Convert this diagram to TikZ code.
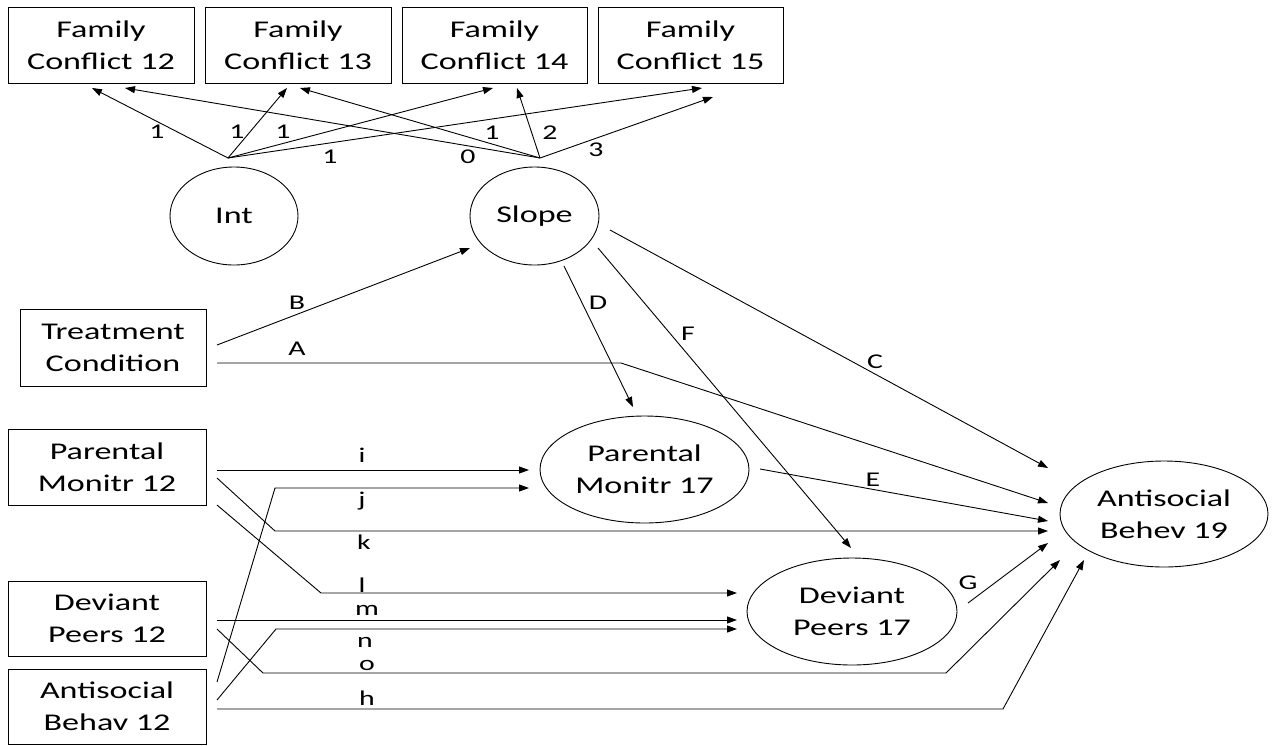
\documentclass[tikz,border=0pt]{standalone}
\usepackage{fontspec}
\setmainfont{Carlito}[FakeStretch=1.42]
\usetikzlibrary{shapes.geometric,arrows.meta}
\begin{document}
\begin{tikzpicture}[x=1pt,y=-1pt,
  box/.style={draw,line width=0.9pt,rectangle,inner sep=0pt,align=center,font=\fontsize{24}{32}\selectfont},
  ell/.style={draw,line width=0.9pt,ellipse,inner sep=0pt,align=center,font=\fontsize{24}{32}\selectfont},
  lbl/.style={inner sep=0pt,font=\fontsize{21}{24}\selectfont},
  conn/.style={line width=0.9pt,-{Triangle[length=10pt,width=7pt]}},
  plain/.style={line width=0.9pt}]
\useasboundingbox (0,0) rectangle (1277,745);

% boxes
\node[box,minimum width=186pt,minimum height=76pt] (fc12) at (101,45) {Family\\Conflict 12};
\node[box,minimum width=186pt,minimum height=76pt] (fc13) at (298,45) {Family\\Conflict 13};
\node[box,minimum width=185pt,minimum height=76pt] (fc14) at (494.5,45) {Family\\Conflict 14};
\node[box,minimum width=185pt,minimum height=76pt] (fc15) at (690.5,45) {Family\\Conflict 15};
\node[box,minimum width=186pt,minimum height=77pt] (trt) at (113,347.5) {Treatment\\Condition};
\node[box,minimum width=198pt,minimum height=76pt] (pm12) at (107,467) {Parental\\Monitr 12};
\node[box,minimum width=198pt,minimum height=75pt] (dp12) at (107,618.5) {Deviant\\Peers 12};
\node[box,minimum width=198pt,minimum height=75pt] (ab12) at (107,706.5) {Antisocial\\Behav 12};

% ellipses
\node[ell,minimum width=128pt,minimum height=98pt] (int) at (234,216) {Int};
\node[ell,minimum width=129pt,minimum height=98pt] (slope) at (534.5,216) {Slope};
\node[ell,minimum width=209pt,minimum height=107pt] (pm17) at (644.5,469.5) {Parental\\Monitr 17};
\node[ell,minimum width=210pt,minimum height=107pt] (dp17) at (852,611.5) {Deviant\\Peers 17};
\node[ell,minimum width=208pt,minimum height=106pt] (ab19) at (1164,514) {Antisocial\\Behev 19};

% connector end points
\coordinate (ji) at (228,158);
\coordinate (js) at (540,158);
\coordinate (t12a) at (92,88);
\coordinate (t12b) at (125,88);
\coordinate (t13a) at (287,88);
\coordinate (t13b) at (300,88);
\coordinate (t14a) at (493,88);
\coordinate (t14b) at (517,88);
\coordinate (t15a) at (702,88);
\coordinate (t15b) at (713,97);

\coordinate (trtB) at (217,345);
\coordinate (trtA) at (217,363);
\coordinate (slB) at (470,248);
\coordinate (slC) at (610,230);
\coordinate (slD) at (564,266);
\coordinate (slF) at (598,248);
\coordinate (pmD) at (633,407);
\coordinate (pmE) at (760,469);
\coordinate (pmi) at (529,470);
\coordinate (pmj) at (529,488);
\coordinate (dpF) at (851,548);
\coordinate (dpG) at (968,603);
\coordinate (dpl) at (737,593);
\coordinate (dpm) at (737,620);
\coordinate (dpn) at (737,629);
\coordinate (abC) at (1048,468);
\coordinate (abA) at (1048,503);
\coordinate (abE) at (1048,521);
\coordinate (abk) at (1048,531);
\coordinate (abG) at (1048,543);
\coordinate (abo) at (1060,560);
\coordinate (abh) at (1084,560);
\coordinate (pmi0) at (217,470);
\coordinate (pmk0) at (217,478);
\coordinate (pml0) at (217,505);
\coordinate (dpm0) at (217,620);
\coordinate (dpo0) at (217,629);
\coordinate (abj0) at (217,682);
\coordinate (abn0) at (217,700);
\coordinate (abh0) at (217,709);

% top loadings
\draw[conn] (ji) -- (t12a);
\draw[conn] (js) -- (t12b);
\draw[conn] (ji) -- (t13a);
\draw[conn] (js) -- (t13b);
\draw[conn] (ji) -- (t14a);
\draw[conn] (js) -- (t14b);
\draw[conn] (ji) -- (t15a);
\draw[conn] (js) -- (t15b);

% paths
\draw[conn] (trtB) -- (slB);
\draw[conn] (trtA) -- (621,363) -- (abA);
\draw[conn] (slC) -- (abC);
\draw[conn] (slD) -- (pmD);
\draw[conn] (slF) -- (dpF);
\draw[conn] (pmE) -- (abE);
\draw[conn] (dpG) -- (abG);
\draw[conn] (pmi0) -- (pmi);
\draw[conn] (abj0) -- (275,488) -- (pmj);
\draw[conn] (pmk0) -- (275,531) -- (abk);
\draw[conn] (pml0) -- (321,593) -- (dpl);
\draw[conn] (dpm0) -- (dpm);
\draw[conn] (abn0) -- (276,629) -- (dpn);
\draw[conn] (dpo0) -- (263,673) -- (946,673) -- (abo);
\draw[conn] (abh0) -- (1003,709) -- (abh);

% labels
\node[lbl] (l1) at (157,132) {1};
\node[lbl] (l2) at (237,132) {1};
\node[lbl] (l3) at (283,132) {1};
\node[lbl] (l4) at (330,157) {1};
\node[lbl] (l5) at (468,157) {0};
\node[lbl] (l6) at (492,133) {1};
\node[lbl] (l7) at (550,133) {2};
\node[lbl] (l8) at (596,150) {3};
\node[lbl] (lB) at (297,303) {B};
\node[lbl] (lA) at (297,349) {A};
\node[lbl] (lD) at (598,303) {D};
\node[lbl] (lF) at (688,334) {F};
\node[lbl] (lC) at (875,362) {C};
\node[lbl] (lE) at (873,480) {E};
\node[lbl] (lG) at (968,583) {G};
\node[lbl] (li) at (362,455) {i};
\node[lbl] (lj) at (362,501) {j};
\node[lbl] (lk) at (364,542) {k};
\node[lbl] (ll) at (362,585) {l};
\node[lbl] (lm) at (367,610) {m};
\node[lbl] (ln) at (365,642) {n};
\node[lbl] (lo) at (367,665) {o};
\node[lbl] (lh) at (367,698) {h};
\end{tikzpicture}
\end{document}
